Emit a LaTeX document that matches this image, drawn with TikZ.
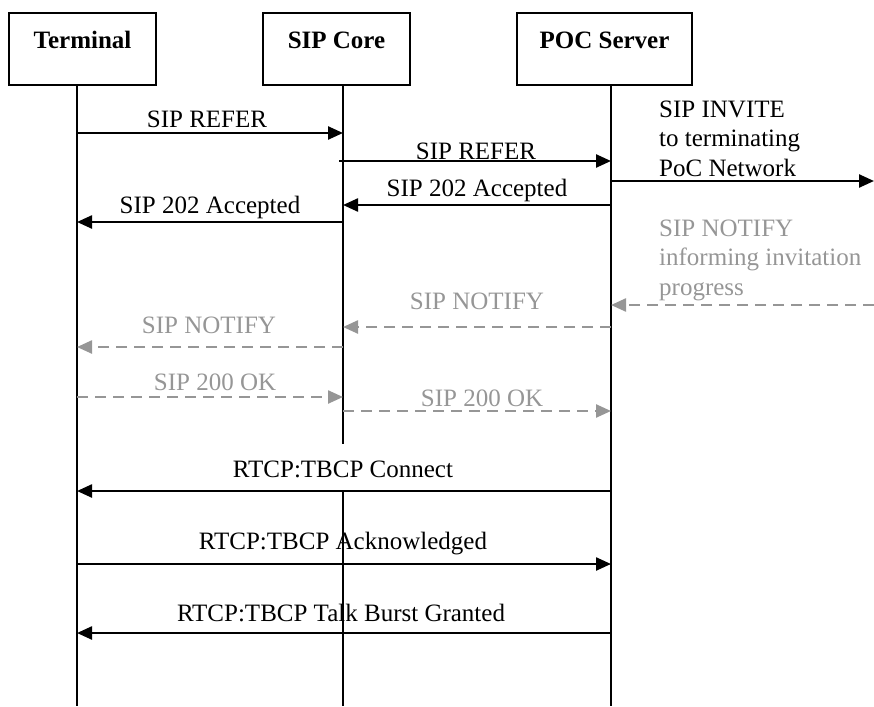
\documentclass[tikz,border=0pt]{standalone}
\usepackage{fontspec}
\setmainfont{Liberation Serif}
\usetikzlibrary{arrows.meta}
\definecolor{notegray}{RGB}{150,150,150}
\tikzset{>={Triangle[length=15pt,width=13pt]}}

\begin{document}
\begin{tikzpicture}[x=1pt,y=-1pt,
    font=\fontsize{25}{29.5}\selectfont,
    actor/.style={draw, line width=1.8pt, minimum height=72pt, inner sep=0pt,
      text height=17pt, text depth=17pt, font=\fontsize{25}{29.5}\selectfont\bfseries},
    life/.style={line width=1.8pt},
    msg/.style={line width=2.4pt, ->},
    reply/.style={msg, draw=notegray, dash pattern=on 11pt off 7pt},
    lbl/.style={anchor=base, inner sep=0pt},
    note/.style={anchor=base west, align=left, inner sep=0pt}]

  \useasboundingbox (0,0) rectangle (874,706);

  % Entities
  \node[actor, minimum width=147pt] (term) at (82.5,49)  {Terminal};
  \node[actor, minimum width=147pt] (core) at (336.5,49) {SIP Core};
  \node[actor, minimum width=175pt] (poc)  at (604.5,49) {POC Server};

  % Lifelines
  \coordinate (tTop) at (77,85);   \coordinate (tBot) at (77,706);
  \coordinate (cTop) at (343,85);  \coordinate (cEnd) at (343,444);
  \coordinate (cRes) at (343,491); \coordinate (cBot) at (343,706);
  \coordinate (pTop) at (611,85);  \coordinate (pBot) at (611,706);
  \coordinate (net)  at (874,85);

  \draw[life] (tTop) -- (tBot);
  \draw[life] (cTop) -- (cEnd);
  \draw[line width=1.3pt] (cRes) -- (cBot);
  \draw[life] (pTop) -- (pBot);

  % Messages
  \draw[msg] (tTop |- 0,133) -- (cTop |- 0,133);
  \node[lbl] (refer1) at (207,128) {SIP REFER};

  \draw[msg] ([xshift=-4pt]cTop |- 0,161) -- (pTop |- 0,161);
  \node[lbl] (refer2) at (476,159) {SIP REFER};

  \draw[msg] (pTop |- 0,181) -- (net |- 0,181);
  \node[note] (invite) at (659,176) {SIP INVITE\\to terminating\\PoC Network};

  \draw[msg] (pTop |- 0,205) -- (cTop |- 0,205);
  \node[lbl] (acc2) at (477,196) {SIP 202 Accepted};

  \draw[msg] (cTop |- 0,222) -- (tTop |- 0,222);
  \node[lbl] (acc1) at (210,213) {SIP 202 Accepted};

  % Notifications (grey)
  \draw[reply] (net |- 0,305) -- (pTop |- 0,305);
  \node[note, text=notegray] (inform) at (659,295) {SIP NOTIFY\\informing invitation\\progress};

  \draw[reply] (pTop |- 0,327) -- (cTop |- 0,327);
  \node[lbl, text=notegray] (notify2) at (477,309) {SIP NOTIFY};

  \draw[reply] (cTop |- 0,347) -- (tTop |- 0,347);
  \node[lbl, text=notegray] (notify1) at (209,333) {SIP NOTIFY};

  \draw[reply] (tTop |- 0,397) -- (cTop |- 0,397);
  \node[lbl, text=notegray] (ok1) at (215,390) {SIP 200 OK};

  \draw[reply] (cTop |- 0,411) -- (pTop |- 0,411);
  \node[lbl, text=notegray] (ok2) at (482,406) {SIP 200 OK};

  % Talk burst control
  \draw[msg] (pTop |- 0,491) -- (tTop |- 0,491);
  \node[lbl] (connect) at (343,477) {RTCP:TBCP Connect};

  \draw[msg] (tTop |- 0,564) -- (pTop |- 0,564);
  \node[lbl] (ack) at (343,549) {RTCP:TBCP Acknowledged};

  \draw[msg] (pTop |- 0,633) -- (tTop |- 0,633);
  \node[lbl] (granted) at (341,621) {RTCP:TBCP Talk Burst Granted};

\end{tikzpicture}
\end{document}
